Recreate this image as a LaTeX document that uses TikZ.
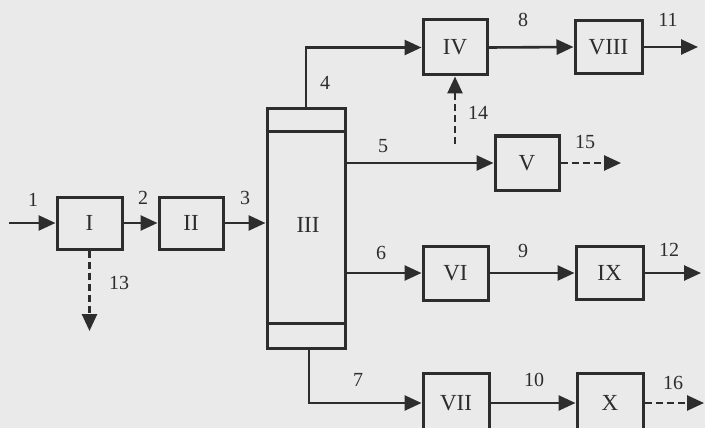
\documentclass[tikz,border=0pt]{standalone}
\usepackage{fontspec}
\setmainfont{Liberation Serif}
\usetikzlibrary{arrows.meta}
\definecolor{bg}{RGB}{234,234,234}
\definecolor{ink}{RGB}{45,45,45}
\begin{document}
\begin{tikzpicture}[x=1pt,y=-1pt,
  box/.style={draw=ink,line width=3pt,minimum width=#1,inner sep=0pt,font=\fontsize{23}{23}\selectfont,text=ink},
  box/.default=65pt,
  flow/.style={draw=ink,line width=2.6pt,-{Triangle[length=17pt,width=15pt]}},
  dflow/.style={flow,dash pattern=on 7pt off 4pt},
  lab/.style={font=\fontsize{20}{20}\selectfont,text=ink,inner sep=0pt}]
\fill[bg] (0,0) rectangle (705,428);
\useasboundingbox (0,0) rectangle (705,428);
\begin{scope}
\clip (0,0) rectangle (705,428);
% boxes
\node[box=65pt,minimum height=52pt] (I) at (89.5,223) {I};
\node[box=64pt,minimum height=52pt] (II) at (191,223) {II};
\node[draw=ink,line width=3pt,minimum width=78pt,minimum height=239pt,inner sep=0pt] (III) at (306,228.5) {};
\node[lab,font=\fontsize{23}{23}\selectfont] (IIIt) at (308,225) {III};
\draw[ink,line width=3pt] ([yshift=-24pt]III.north west) -- ([yshift=-24pt]III.north east);
\draw[ink,line width=3pt] ([yshift=26pt]III.south west) -- ([yshift=26pt]III.south east);
\node[box=64pt,minimum height=55pt] (IV) at (455,47.5) {IV};
\node[box=67pt,minimum height=53pt] (VIII) at (608.5,47) {VIII};
\node[box=64pt,minimum height=54pt] (V) at (527,163) {V};
\node[box=65pt,minimum height=54pt] (VI) at (455.5,273) {VI};
\node[box=67pt,minimum height=53pt] (IX) at (609.5,273) {IX};
\node[box=66pt,minimum height=60pt] (VII) at (456,403) {VII};
\node[box=66pt,minimum height=60pt] (X) at (610,403) {X};
% free ends
\coordinate (in1) at (9,223);
\coordinate (o13) at (89.5,331);
\coordinate (o11) at (698,47);
\coordinate (i14) at (455,144);
\coordinate (o15) at (621,163);
\coordinate (o12) at (701,273);
\coordinate (o16) at (704,403);
% connectors
\draw[flow] (in1) -- (I.west);
\draw[flow] (I.east) -- (II.west);
\draw[flow] (II.east) -- (II.east -| III.west);
\draw[dflow] (I.south) -- (o13);
\draw[flow] (III.north) |- (IV.west);
\draw[flow] (IV.east) -- (VIII.west);
\draw[flow] (VIII.east) -- (o11);
\draw[dflow] (i14) -- (IV.south);
\draw[flow] (III.east |- V.west) -- (V.west);
\draw[dflow] (V.east) -- (o15);
\draw[flow] (III.east |- VI.west) -- (VI.west);
\draw[flow] (VI.east) -- (IX.west);
\draw[flow] (IX.east) -- (o12);
\draw[flow] ([xshift=3pt]III.south) |- (VII.west);
\draw[flow] (VII.east) -- (X.west);
\draw[dflow] (X.east) -- (o16);
\end{scope}
% labels
\node[lab] (l1) at (33,200) {1};
\node[lab] (l2) at (143,198) {2};
\node[lab] (l3) at (245,198) {3};
\node[lab] (l4) at (325,83) {4};
\node[lab] (l5) at (383,146) {5};
\node[lab] (l6) at (381,253) {6};
\node[lab] (l7) at (358,380) {7};
\node[lab] (l8) at (523,20) {8};
\node[lab] (l9) at (523,251) {9};
\node[lab] (l10) at (534,380) {10};
\node[lab] (l11) at (668,20) {11};
\node[lab] (l12) at (669,250) {12};
\node[lab] (l13) at (119,283) {13};
\node[lab] (l14) at (478,113) {14};
\node[lab] (l15) at (585,142) {15};
\node[lab] (l16) at (673,383) {16};
\end{tikzpicture}
\end{document}
